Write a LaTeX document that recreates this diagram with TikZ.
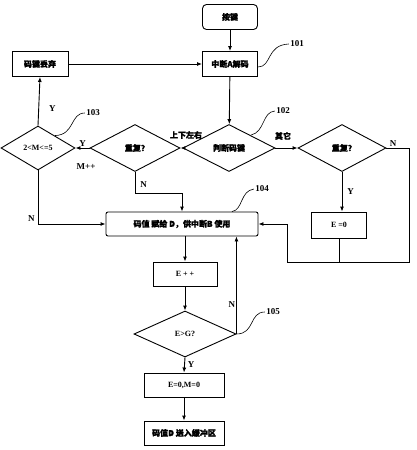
\documentclass[tikz,border=0pt]{standalone}
\usepackage{fontspec}
\setmainfont{Liberation Serif}
\newfontfamily\cjk[FakeBold=1.6]{Noto Sans CJK SC}
\usetikzlibrary{shapes.geometric,arrows.meta}

\begin{document}
\begin{tikzpicture}[x=1pt,y=-1pt,line width=0.9pt,
  font=\fontsize{8}{9}\selectfont\bfseries,
  box/.style={draw,rectangle,inner sep=1pt},
  dia/.style={draw,diamond,inner sep=0pt},
  arr/.style={-{Latex[length=5pt,width=4pt]}},
  lbl/.style={font=\fontsize{9}{10}\selectfont\bfseries,inner sep=1pt},
  lead/.style={line width=0.6pt}]
\useasboundingbox (0,0) rectangle (416,450);
% boxes
\node[box,rounded corners=4pt,minimum width=55pt,minimum height=25pt] (key) at (230,17) {\cjk 按键};
\node[box,minimum width=55pt,minimum height=25pt] (decA) at (230,64) {\cjk 中断A解码};
\node[box,minimum width=56pt,minimum height=25pt] (drop) at (40,64) {\cjk 码键丢弃};
% diamonds
\node[dia,minimum width=74pt,minimum height=44pt] (range) at (38,148) {2<M<=5};
\node[dia,minimum width=90pt,minimum height=47pt] (repL) at (135,148) {\cjk 重复?};
\node[dia,minimum width=92pt,minimum height=47pt] (judge) at (229,148) {\cjk 判断码键};
\node[dia,minimum width=88pt,minimum height=47pt] (repR) at (342,148) {\cjk 重复?};
\node[box,rounded corners=2pt,minimum width=152pt,minimum height=24pt] (assign) at (182,224) {\cjk 码值 赋给 D，供中断B 使用};
\node[box,minimum width=55pt,minimum height=26pt] (ezero) at (339,225) {E =0};
\node[box,minimum width=64pt,minimum height=24pt] (einc) at (185,274) {E + +};
\node[dia,minimum width=102pt,minimum height=46pt] (cmp) at (185,334) {E>G?};
\node[box,minimum width=80pt,minimum height=24pt] (reset) at (184,385) {E=0,M=0};
\node[box,minimum width=80pt,minimum height=24pt] (buffer) at (184,433) {\cjk 码值D 送入缓冲区};
% branch texts
\node[inner sep=1pt] (dirs) at (186,135) {\cjk 上下左右};
\node[inner sep=1pt] (other) at (283,136) {\cjk 其它};
\node[lbl] (mplus) at (86,167) {M++};
% reference numbers
\node[lbl] (n101) at (297,44) {101};
\node[lbl] (n102) at (283,111) {102};
\node[lbl] (n103) at (93,113) {103};
\node[lbl] (n104) at (262,189) {104};
\node[lbl] (n105) at (273,312) {105};
\draw[lead] (decA.east) ++(0,3) .. controls (272,67) and (266,45) .. (n101.west);
\draw[lead] (judge.north) ++(22,11) .. controls (265,132) and (262,112) .. (n102.west);
\draw[lead] (range.north) ++(17,10) .. controls (75,135) and (70,113) .. (n103.west);
\draw[lead] (assign.north) ++(50,0) .. controls (243,210) and (240,191) .. (n104.west);
\draw[lead] (cmp.east) .. controls (255,334) and (249,312) .. (n105.west);
% coordinates for the loop on the right
\coordinate (rbend) at (409,262);
\coordinate (jbend) at (287,262);
% connectors
\draw[arr] (key) -- (decA);
\draw[arr] (drop) -- (decA);
\draw[arr] (decA) -- (judge);
\draw[arr] (judge.west) -- (repL.east);
\draw[arr] (repL.west) -- node[lbl,above] {Y} (range.east);
\draw[arr] (range.north) -- node[lbl,right,pos=0.35,xshift=9pt] {Y} (drop.south);
\draw[arr] (judge.east) -- (repR.west);
\draw[arr] (repR.south) -- node[lbl,right,xshift=4pt] {Y} (repR.south |- ezero.north);
\draw[arr] (repR.east) -| node[lbl,above,pos=0.15] {N} (rbend) -- (jbend) |- (assign.east);
\draw (ezero.south) -- (ezero.south |- rbend);
\draw[arr] (repL.south) -- node[lbl,right,pos=0.6,xshift=4pt] {N} ++(0,21) -| (assign.north);
\draw[arr] (range.south) |- node[lbl,left,pos=0.45,xshift=-2pt] {N} (assign.west);
\draw[arr] (assign.south -| einc.north) -- (einc.north);
\draw[arr] (einc) -- (cmp);
\draw[arr] (cmp.east) -- node[lbl,left,pos=0.3] {N} (cmp.east |- assign.south);
\draw[arr] (cmp.south) -- node[lbl,right,xshift=2pt] {Y} (reset.north);
\draw[arr] (reset) -- (buffer);
\end{tikzpicture}
\end{document}
